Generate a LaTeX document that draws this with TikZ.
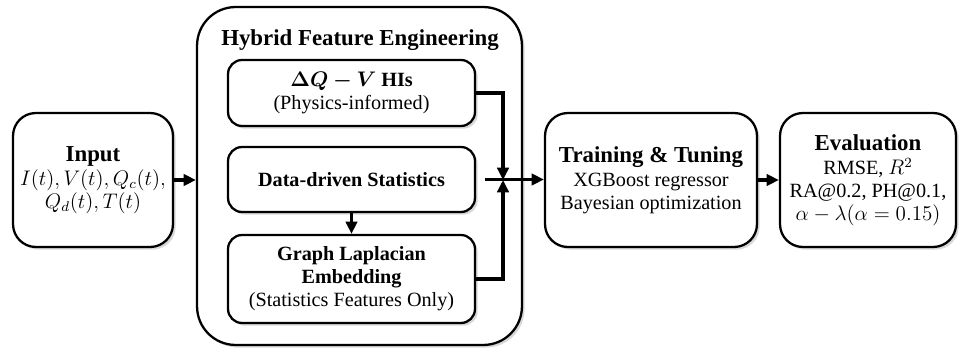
\documentclass[tikz,border=0pt]{standalone}
\usepackage{amsmath,bm}
\usepackage{fontspec}
\setmainfont{Liberation Serif}
\usetikzlibrary{arrows.meta,shadows}
\newcommand{\headtxt}{\fontsize{13}{15}\selectfont\bfseries}
\newcommand{\subtxt}{\fontsize{11.5}{13.5}\selectfont\bfseries}
\begin{document}
\begin{tikzpicture}[x=0.02cm,y=-0.02cm,
		>={Triangle[length=7pt,width=6.5pt]},
		box/.style={draw,line width=1.3pt,fill=white,align=center,inner sep=0pt,
			font=\fontsize{11.5}{13}\selectfont,
			drop shadow={shadow xshift=1.5pt,shadow yshift=-1.5pt,opacity=0.3}},
		stagebox/.style={box,rounded corners=13pt,minimum height=2.68cm},
		featbox/.style={box,rounded corners=8pt,minimum width=4.94cm},
		link/.style={line width=1.8pt}]
	\useasboundingbox (0,0) rectangle (959,348);
	\node [stagebox,minimum width=3.2cm] (input) at ( 93, 180 ) {{\headtxt Input}\\[1pt] $I(t),V(t),Q_c(t),$\\ $Q_d(t),T(t)$};
	\node [box,rounded corners=22pt,minimum width=6.5cm,minimum height=6.76cm] (hfe) at ( 359.5, 176 ) {};
	\node (hfetitle) at ( 360, 40 ) {\headtxt Hybrid Feature Engineering};
	\node [featbox,minimum height=1.32cm] (physics) at ( 351.5, 93 ) {{\subtxt $\bm{\Delta Q - V}$ HIs}\\ (Physics-informed)};
	\node [featbox,minimum height=1.3cm] (stats) at ( 351.5, 179.5 ) {\subtxt Data-driven Statistics};
	\node [featbox,minimum height=1.76cm] (graph) at ( 351.5, 279 ) {{\subtxt Graph Laplacian}\\ {\subtxt Embedding}\\ (Statistics Features Only)};
	\node [stagebox,minimum width=4.24cm] (train) at ( 651, 180 ) {{\headtxt Training \& Tuning}\\[1pt] XGBoost regressor\\ Bayesian optimization};
	\node [stagebox,minimum width=3.52cm] (eval) at ( 868, 180 ) {{\headtxt Evaluation}\\[1pt] RMSE, $R^2$\\ RA@0.2, PH@0.1,\\ $\alpha-\lambda(\alpha=0.15)$};
	\coordinate (merge) at ( 503, 180 );
	\draw [link,->] (input) -- (hfe.west |- input);
	\draw [link,->] (stats) -- (graph);
	\draw [link,->] (physics.east) -| (merge);
	\draw [link,->] (graph.east) -| (merge);
	\draw [link,->] ([xshift=5pt]stats.east) -- (train.west |- stats.east);
	\draw [link,->] (train) -- (eval);
\end{tikzpicture}
\end{document}
